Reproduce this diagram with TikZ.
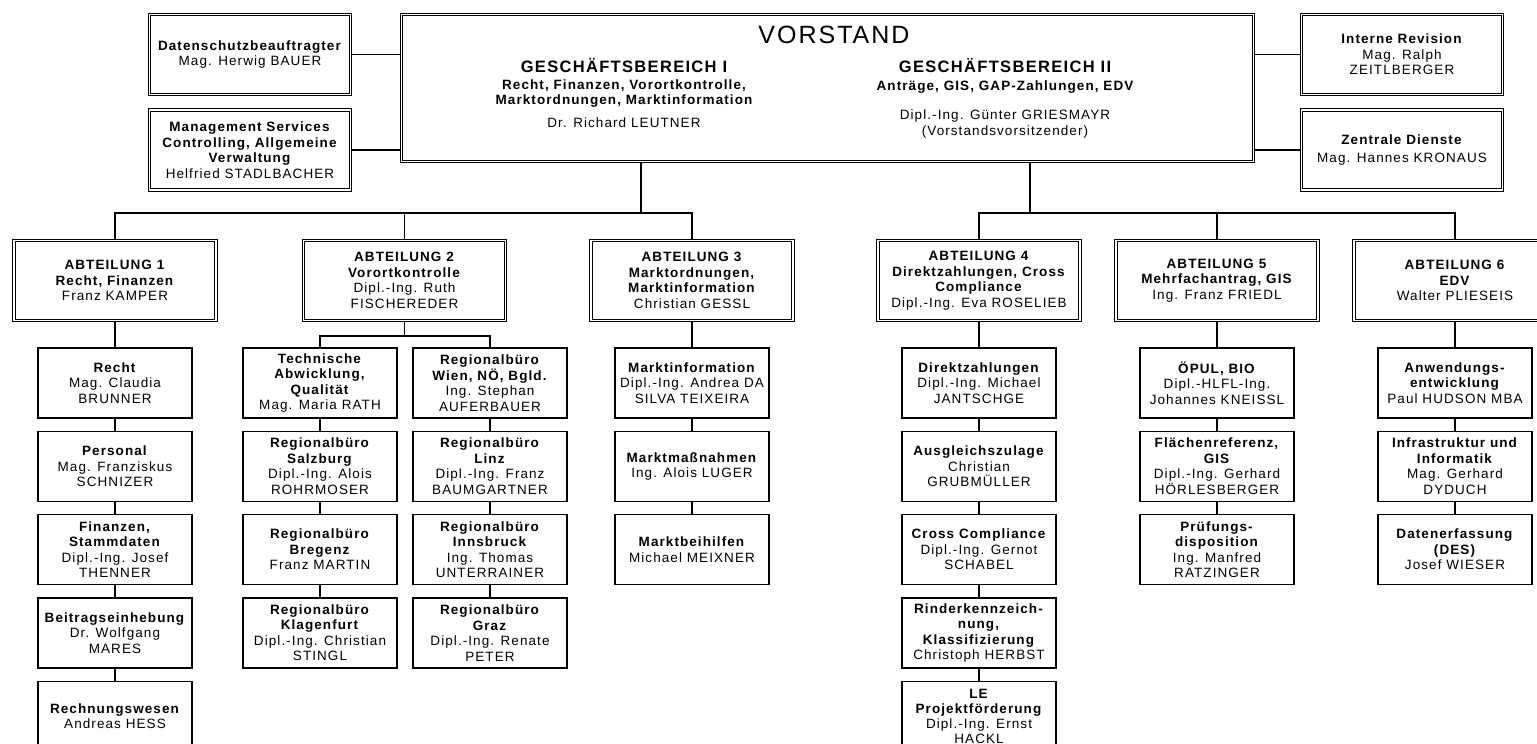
\documentclass[tikz,border=0pt]{standalone}
\usepackage{fontspec}
\setmainfont{Liberation Sans}[LetterSpace=8]
\usetikzlibrary{positioning}

\newcommand{\boxfont}{\fontsize{13.5}{15.5}\selectfont}
\newcommand{\hdr}[1]{\textbf{#1}}

\tikzset{
  dbox/.style={draw, double, line width=1pt, double distance=1.5pt,
    inner sep=0pt, align=center, font=\boxfont},
  side/.style={dbox, minimum width=201pt, minimum height=80pt},
  abt/.style={dbox, minimum width=202pt, minimum height=80pt},
  ubox/.style={draw, line width=1.3pt, minimum width=154pt, minimum height=70pt,
    inner sep=0pt, align=center, font=\boxfont},
  conn/.style={draw, line width=1.2pt},
  node distance=12pt
}

\begin{document}
\begin{tikzpicture}[x=1pt,y=-1pt]
  \useasboundingbox (0,0) rectangle (1537,744);
  \clip (0,0) rectangle (1537,744);

  % Vorstand and staff units
  \node[dbox, minimum width=852pt, minimum height=147pt] (vorstand) at (827.5,88) {};
  \node[font=\fontsize{25}{28}\selectfont] (vtitle) at (834,35) {VORSTAND};
  \node[inner sep=1pt, font=\fontsize{16.5}{18}\selectfont\bfseries] (gbt1) at (624,66) {GESCHÄFTSBEREICH I};
  \node[inner sep=1pt, align=center, font=\boxfont\bfseries] (gbs1) at (624,93.5) {Recht, Finanzen, Vorortkontrolle,\\Marktordnungen, Marktinformation};
  \node[font=\boxfont] (gbn1) at (624,123) {Dr. Richard LEUTNER};
  \node[inner sep=1pt, font=\fontsize{16.5}{18}\selectfont\bfseries] (gbt2) at (1005,66) {GESCHÄFTSBEREICH II};
  \node[inner sep=1pt, font=\boxfont\bfseries] (gbs2) at (1005,87) {Anträge, GIS, GAP-Zahlungen, EDV};
  \node[align=center, font=\boxfont] (gbn2) at (1005,124) {Dipl.-Ing. Günter GRIESMAYR\\(Vorstandsvorsitzender)};

  \node[side] (dsb) at (250,54.5) {\hdr{Datenschutzbeauftragter}\\Mag. Herwig BAUER};
  \node[side] (msv) at (250,150) {\hdr{Management Services}\\\hdr{Controlling, Allgemeine}\\\hdr{Verwaltung}\\Helfried STADLBACHER};
  \node[side] (irev) at (1402,54.5) {\hdr{Interne Revision}\\Mag. Ralph\\ZEITLBERGER};
  \node[side] (zd) at (1402,150) {\hdr{Zentrale Dienste}\\[3pt]Mag. Hannes KRONAUS};

  \draw[conn] (dsb.east) -- (dsb.east -| vorstand.west);
  \draw[conn] (msv.east) -- (msv.east -| vorstand.west);
  \draw[conn] (irev.west) -- (irev.west -| vorstand.east);
  \draw[conn] (zd.west) -- (zd.west -| vorstand.east);

  % Abteilungen
  \node[abt] (abt1) at (115,280.5) {\hdr{ABTEILUNG 1}\\\hdr{Recht, Finanzen}\\Franz KAMPER};
  \node[abt] (abt2) at (404.5,280.5) {\hdr{ABTEILUNG 2}\\\hdr{Vorortkontrolle}\\Dipl.-Ing. Ruth\\FISCHEREDER};
  \node[abt] (abt3) at (692,280.5) {\hdr{ABTEILUNG 3}\\\hdr{Marktordnungen,}\\\hdr{Marktinformation}\\Christian GESSL};
  \node[abt] (abt4) at (979,280.5) {\hdr{ABTEILUNG 4}\\\hdr{Direktzahlungen, Cross}\\\hdr{Compliance}\\Dipl.-Ing. Eva ROSELIEB};
  \node[abt] (abt5) at (1217,280.5) {\hdr{ABTEILUNG 5}\\\hdr{Mehrfachantrag, GIS}\\Ing. Franz FRIEDL};
  \node[abt] (abt6) at (1455,280.5) {\hdr{ABTEILUNG 6}\\\hdr{EDV}\\Walter PLIESEIS};

  \coordinate (busl) at (641,213);
  \coordinate (busr) at (1030,213);
  \draw[conn] (vorstand.south -| busl) -- (busl);
  \draw[conn] (abt1.north) |- (busl) -| (abt3.north);
  \draw[conn] (abt2.north) -- (abt2.north |- busl);
  \draw[conn] (vorstand.south -| busr) -- (busr);
  \draw[conn] (abt4.north) |- (busr) -| (abt6.north);
  \draw[conn] (abt5.north) -- (abt5.north |- busr);

  % Referate
  \node[ubox] (recht) at (115,383) {\hdr{Recht}\\Mag. Claudia\\BRUNNER};
  \node[ubox, below=of recht] (pers) {\hdr{Personal}\\Mag. Franziskus\\SCHNIZER};
  \node[ubox, below=of pers] (fin) {\hdr{Finanzen,}\\\hdr{Stammdaten}\\Dipl.-Ing. Josef\\THENNER};
  \node[ubox, below=of fin] (beit) {\hdr{Beitragseinhebung}\\Dr. Wolfgang\\MARES};
  \node[ubox, below=of beit] (rewe) {\hdr{Rechnungswesen}\\Andreas HESS};

  \node[ubox] (tech) at (320,383) {\hdr{Technische}\\\hdr{Abwicklung,}\\\hdr{Qualität}\\Mag. Maria RATH};
  \node[ubox, below=of tech] (salz) {\hdr{Regionalbüro}\\\hdr{Salzburg}\\Dipl.-Ing. Alois\\ROHRMOSER};
  \node[ubox, below=of salz] (breg) {\hdr{Regionalbüro}\\\hdr{Bregenz}\\Franz MARTIN};
  \node[ubox, below=of breg] (klag) {\hdr{Regionalbüro}\\\hdr{Klagenfurt}\\Dipl.-Ing. Christian\\STINGL};

  \node[ubox] (wien) at (490,383) {\hdr{Regionalbüro}\\\hdr{Wien, NÖ, Bgld.}\\Ing. Stephan\\AUFERBAUER};
  \node[ubox, below=of wien] (linz) {\hdr{Regionalbüro}\\\hdr{Linz}\\Dipl.-Ing. Franz\\BAUMGARTNER};
  \node[ubox, below=of linz] (ibk) {\hdr{Regionalbüro}\\\hdr{Innsbruck}\\Ing. Thomas\\UNTERRAINER};
  \node[ubox, below=of ibk] (graz) {\hdr{Regionalbüro}\\\hdr{Graz}\\Dipl.-Ing. Renate\\PETER};

  \node[ubox] (markt) at (692,383) {\hdr{Marktinformation}\\Dipl.-Ing. Andrea DA\\SILVA TEIXEIRA};
  \node[ubox, below=of markt] (mmn) {\hdr{Marktmaßnahmen}\\Ing. Alois LUGER};
  \node[ubox, below=of mmn] (mbh) {\hdr{Marktbeihilfen}\\Michael MEIXNER};

  \node[ubox] (direkt) at (979,383) {\hdr{Direktzahlungen}\\Dipl.-Ing. Michael\\JANTSCHGE};
  \node[ubox, below=of direkt] (azl) {\hdr{Ausgleichszulage}\\Christian\\GRUBMÜLLER};
  \node[ubox, below=of azl] (cc) {\hdr{Cross Compliance}\\Dipl.-Ing. Gernot\\SCHABEL};
  \node[ubox, below=of cc] (rind) {\hdr{Rinderkennzeich-}\\\hdr{nung,}\\\hdr{Klassifizierung}\\Christoph HERBST};
  \node[ubox, below=of rind, font=\fontsize{13.5}{15}\selectfont] (le) {\hdr{LE}\\\hdr{Projektförderung}\\Dipl.-Ing. Ernst\\HACKL};

  \node[ubox] (oepul) at (1217,383) {\hdr{ÖPUL, BIO}\\Dipl.-HLFL-Ing.\\Johannes KNEISSL};
  \node[ubox, below=of oepul] (flae) {\hdr{Flächenreferenz,}\\\hdr{GIS}\\Dipl.-Ing. Gerhard\\HÖRLESBERGER};
  \node[ubox, below=of flae] (pruef) {\hdr{Prüfungs-}\\\hdr{disposition}\\Ing. Manfred\\RATZINGER};

  \node[ubox] (anw) at (1455,383) {\hdr{Anwendungs-}\\\hdr{entwicklung}\\Paul HUDSON MBA};
  \node[ubox, below=of anw] (infra) {\hdr{Infrastruktur und}\\\hdr{Informatik}\\Mag. Gerhard\\DYDUCH};
  \node[ubox, below=of infra] (dat) {\hdr{Datenerfassung}\\\hdr{(DES)}\\Josef WIESER};

  \coordinate (sub2) at (404.5,336);
  \draw[conn] (abt2.south) -- (sub2);
  \draw[conn] (tech.north) |- (sub2) -| (wien.north);

  \foreach \a/\b in {abt1/recht, recht/pers, pers/fin, fin/beit, beit/rewe,
      tech/salz, salz/breg, breg/klag, wien/linz, linz/ibk, ibk/graz,
      abt3/markt, markt/mmn, mmn/mbh,
      abt4/direkt, direkt/azl, azl/cc, cc/rind, rind/le,
      abt5/oepul, oepul/flae, flae/pruef,
      abt6/anw, anw/infra, infra/dat}
    \draw[conn] (\a) -- (\b);
\end{tikzpicture}
\end{document}
